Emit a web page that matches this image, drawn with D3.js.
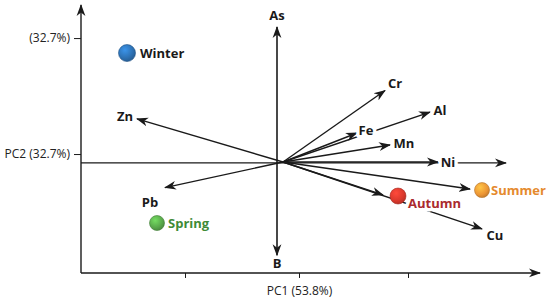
<!DOCTYPE html>
<html>
<head>
<meta charset="utf-8">
<script src="https://cdn.jsdelivr.net/npm/d3@7"></script>
<style>
  body { margin: 0; background: #fff; }
  svg { display: block; font-family: "Open Sans", sans-serif; }
</style>
</head>
<body>
<div id="chart"></div>
<script>
// loadings of the elements (PC1, PC2)
const elements = ["Zn", "Pb", "Cr", "Al", "Fe", "Mn", "Ni", "Cu", "", ""];
const pc1Load = [-0.73, -0.59, 0.51, 0.735, 0.37, 0.535, 0.775, 0.995, 0.50, 0.935];
const pc2Load = [0.32, -0.19, 0.53, 0.37, 0.215, 0.126, 0.0, -0.496, -0.244, -0.20];

// vertical reference arrow (As up, B down)
const vertLabels = ["As", "B"];
const vertLoad = [1.0, -0.69];

// season scores
const seasons = ["Winter", "Spring", "Autumn", "Summer"];
const pc1Score = [-0.78, -0.63, 0.575, 0.995];
const pc2Score = [0.807, -0.452, -0.252, -0.208];
const seasonColors = ["#2c6fb0", "#58a64a", "#d9382c", "#ec9535"];
const seasonText = ["#1a1a1a", "#3f8b37", "#aa2a2e", "#e58a2e"];

// axis ticks
const yTicks = [0.918, 0.059];
const yTickLabels = ["(32.7%)", "PC2 (32.7%)"];
const xTicks = [-0.49, 0.08, 0.625];
const xTickLabels = ["", "PC1 (53.8%)", ""];

const width = 550, height = 302;

const x = d3.scaleLinear().domain([-1, 1]).range([83, 483]);
const y = d3.scaleLinear().domain([-1, 1]).range([297, 27]);

// where the frame and reference lines sit, in data units
const frameX = -1.01, frameY = -0.822, frameTop = 1.163, frameRight = 1.285;
const crossX = -0.03, crossY = -0.007, crossRight = 1.115;

const svg = d3.select("#chart").append("svg")
    .attr("width", width)
    .attr("height", height)
    .attr("viewBox", [0, 0, width, height]);

svg.append("defs").append("marker")
    .attr("id", "head")
    .attr("viewBox", "0 -5 12 10")
    .attr("refX", 11)
    .attr("refY", 0)
    .attr("markerUnits", "userSpaceOnUse")
    .attr("markerWidth", 12)
    .attr("markerHeight", 10)
    .attr("orient", "auto")
  .append("path")
    .attr("d", "M0,-4.4L12,0L0,4.4L3.5,0Z")
    .attr("fill", "#1a1a1a");

const grads = svg.select("defs").selectAll("radialGradient")
    .data(seasonColors)
    .join("radialGradient")
    .attr("id", (d, i) => "g" + i)
    .attr("cx", "38%").attr("cy", "32%").attr("r", "70%");
grads.append("stop").attr("offset", "0%").attr("stop-color", d => d3.color(d).brighter(0.8));
grads.append("stop").attr("offset", "70%").attr("stop-color", d => d);
grads.append("stop").attr("offset", "100%").attr("stop-color", d => d3.color(d).darker(0.5));

const ink = "#1a1a1a";

// frame axes
svg.append("line")
    .attr("x1", x(frameX)).attr("y1", y(frameY))
    .attr("x2", x(frameX)).attr("y2", y(frameTop))
    .attr("stroke", ink).attr("stroke-width", 1.4)
    .attr("marker-end", "url(#head)");
svg.append("line")
    .attr("x1", x(frameX)).attr("y1", y(frameY))
    .attr("x2", x(frameRight)).attr("y2", y(frameY))
    .attr("stroke", ink).attr("stroke-width", 1.4)
    .attr("marker-end", "url(#head)");

const yAxis = g => g
    .attr("transform", `translate(${x(frameX)},0)`)
    .call(d3.axisLeft(y).tickValues(yTicks)
        .tickFormat((d, i) => yTickLabels[i]).tickSize(7).tickPadding(4))
    .call(g => g.select(".domain").remove());

const xAxis = g => g
    .attr("transform", `translate(0,${y(frameY)})`)
    .call(d3.axisBottom(x).tickValues(xTicks)
        .tickFormat((d, i) => xTickLabels[i]).tickSize(5).tickPadding(9))
    .call(g => g.select(".domain").remove());

svg.append("g").call(yAxis);
svg.append("g").call(xAxis);
svg.selectAll(".tick line").attr("stroke", ink).attr("stroke-width", 1);
svg.selectAll(".tick text")
    .attr("font-family", "Open Sans").attr("font-size", 12).attr("fill", "#222");

// horizontal reference line
svg.append("line")
    .attr("x1", x(frameX)).attr("y1", y(crossY))
    .attr("x2", x(crossRight)).attr("y2", y(crossY))
    .attr("stroke", ink).attr("stroke-width", 1.3)
    .attr("marker-end", "url(#head)");

// vertical reference arrows
svg.selectAll(".vert")
    .data(vertLoad)
    .join("line")
    .attr("class", "vert")
    .attr("x1", x(crossX)).attr("y1", y(crossY))
    .attr("x2", x(crossX)).attr("y2", d => y(d))
    .attr("stroke", ink).attr("stroke-width", 1.6)
    .attr("marker-end", "url(#head)");

// element vectors
const vectors = elements.map((e, i) => ({ name: e, px: pc1Load[i], py: pc2Load[i] }));

svg.selectAll(".vec")
    .data(vectors)
    .join("line")
    .attr("class", "vec")
    .attr("x1", x(0)).attr("y1", y(0))
    .attr("x2", d => x(d.px)).attr("y2", d => y(d.py))
    .attr("stroke", ink).attr("stroke-width", 1.4)
    .attr("marker-end", "url(#head)");

// label offsets from the arrow tip (dx, dy to text centre)
const labelShift = {
  Zn: [-12, -2], Pb: [-15, 15], Cr: [10, -7], Al: [10, -2], Fe: [9, -3],
  Mn: [14, -2], Ni: [10, 0], Cu: [13, 6]
};

const halo = sel => sel
    .attr("paint-order", "stroke")
    .attr("stroke", "#fff")
    .attr("stroke-width", 7)
    .attr("stroke-linejoin", "round");

svg.selectAll(".elab")
    .data(vectors.filter(d => d.name))
    .join("text")
    .attr("class", "elab")
    .attr("x", d => x(d.px) + labelShift[d.name][0])
    .attr("y", d => y(d.py) + labelShift[d.name][1])
    .attr("text-anchor", "middle")
    .attr("dy", "0.36em")
    .attr("font-size", 13)
    .attr("font-weight", "bold")
    .attr("fill", ink)
    .text(d => d.name)
    .call(halo);

svg.selectAll(".vlab")
    .data(vertLoad)
    .join("text")
    .attr("class", "vlab")
    .attr("x", x(crossX))
    .attr("y", (d, i) => y(d) + (i === 0 ? -12 : 8))
    .attr("text-anchor", "middle")
    .attr("dy", "0.36em")
    .attr("font-size", 13)
    .attr("font-weight", "bold")
    .attr("fill", ink)
    .text((d, i) => vertLabels[i]);

// season scores
const scores = seasons.map((s, i) => ({ name: s, px: pc1Score[i], py: pc2Score[i], i }));
const radius = [8.5, 7.5, 8, 7.5];
const textShift = [[13, 0], [11, 0], [10, 7], [9, 0]];

svg.selectAll(".slab")
    .data(scores)
    .join("text")
    .attr("class", "slab")
    .attr("x", d => x(d.px) + textShift[d.i][0])
    .attr("y", d => y(d.py) + textShift[d.i][1])
    .attr("dy", "0.36em")
    .attr("font-size", 13)
    .attr("font-weight", "bold")
    .attr("fill", d => seasonText[d.i])
    .text(d => d.name)
    .call(halo);

svg.selectAll(".dot")
    .data(scores)
    .join("circle")
    .attr("class", "dot")
    .attr("cx", d => x(d.px))
    .attr("cy", d => y(d.py))
    .attr("r", d => radius[d.i])
    .attr("fill", d => `url(#g${d.i})`)
    .attr("stroke", d => d3.color(seasonColors[d.i]).darker(0.8))
    .attr("stroke-width", 0.6);
</script>
</body>
</html>
